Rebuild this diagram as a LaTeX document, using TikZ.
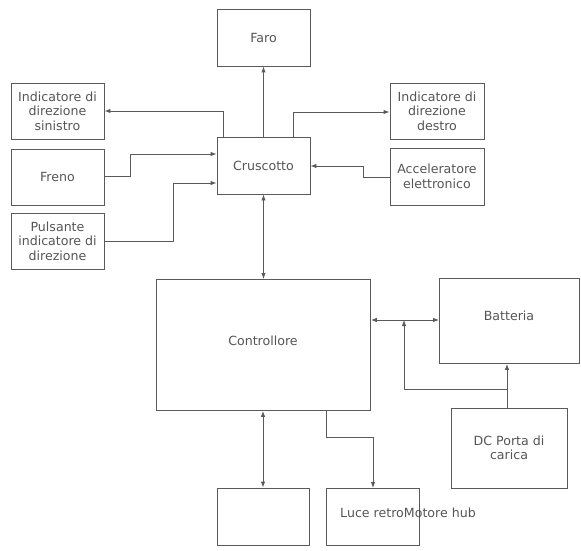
\documentclass[tikz,border=0pt]{standalone}
\usepackage{fontspec}
\setmainfont{DejaVu Sans}
\usetikzlibrary{arrows.meta,positioning}
\definecolor{linegray}{HTML}{5A5A5A}
\definecolor{textgray}{HTML}{555555}
\begin{document}
\begin{tikzpicture}[x=1pt,y=-1pt,
  txt/.style={text=textgray,font=\fontsize{12.6}{14.5}\selectfont},
  blk/.style={txt,draw=linegray,line width=0.9pt,rectangle,inner sep=0pt,align=center},
  conn/.style={draw=linegray,line width=0.9pt,-{Latex[length=6pt,width=4.5pt]}},
  dconn/.style={draw=linegray,line width=0.9pt,{Latex[length=6pt,width=4.5pt]}-{Latex[length=6pt,width=4.5pt]}}]
\useasboundingbox (0,0) rectangle (581,551);
\fill[white] (0,0) rectangle (581,551);
\newcommand{\blkat}[6]{\node[blk,minimum width=#4-#2,minimum height=#5-#3] (#1) at ({(#2+#4)/2},{(#3+#5)/2}) {#6};}
\blkat{faro}{217}{9}{310}{66}{Faro}
\blkat{isx}{11}{83}{104}{139}{Indicatore di\\direzione\\sinistro}
\blkat{freno}{11}{149}{104}{205}{Freno}
\blkat{puls}{11}{213}{104}{269}{Pulsante\\indicatore di\\direzione}
\blkat{crus}{217}{137}{310}{194}{Cruscotto}
\blkat{idx}{390}{83}{484}{139}{Indicatore di\\direzione\\destro}
\blkat{acc}{390}{148}{484}{205}{Acceleratore\\elettronico}
\node[blk,minimum width=214,minimum height=131,anchor=north west] (ctrl) at (156,279) {};
\node[txt] (ctrltxt) at (263,341) {Controllore};
\node[blk,minimum width=140,minimum height=85,anchor=north west] (batt) at (439,278) {};
\node[txt] (batttxt) at (509,316) {Batteria};
\blkat{dc}{451}{408}{567}{488}{DC Porta di\\carica}
\blkat{b1}{217}{488}{309}{545}{}
\node[blk,minimum width=93,minimum height=57,anchor=north west] (b2) at (326,488) {};
\node[txt] (b2txt) at (408,513) {Luce retroMotore hub};
% connectors
\draw[conn] (crus.north) -- (faro.south);
\draw[conn] (crus.north west) ++(7,0) |- (isx.east |- 0,111);
\draw[conn] (crus.north east) ++(-17,0) |- (idx.west |- 0,112);
\draw[conn] (freno.east |- 0,176) -- (130,176) |- (crus.west |- 0,154);
\draw[conn] (puls.east |- 0,241) -- (173,241) |- (crus.west |- 0,183);
\draw[conn] (acc.west |- 0,177) -- (363,177) |- (crus.east |- 0,166);
\draw[dconn] (crus.south) -- (ctrl.north -| crus.south);
\draw[dconn] (ctrl.east |- 0,320) -- (batt.west |- 0,320);
\draw[conn] (dc.north -| 507,0) -- (batt.south -| 507,0);
\draw[conn] (507,389) -- (404,389) -- (404,320);
\draw[dconn] (ctrl.south -| 263,0) -- (b1.north -| 263,0);
\draw[conn] (ctrl.south -| 326,0) -- (326,437) -- (373,437) -- (b2.north -| 373,0);
\end{tikzpicture}
\end{document}
